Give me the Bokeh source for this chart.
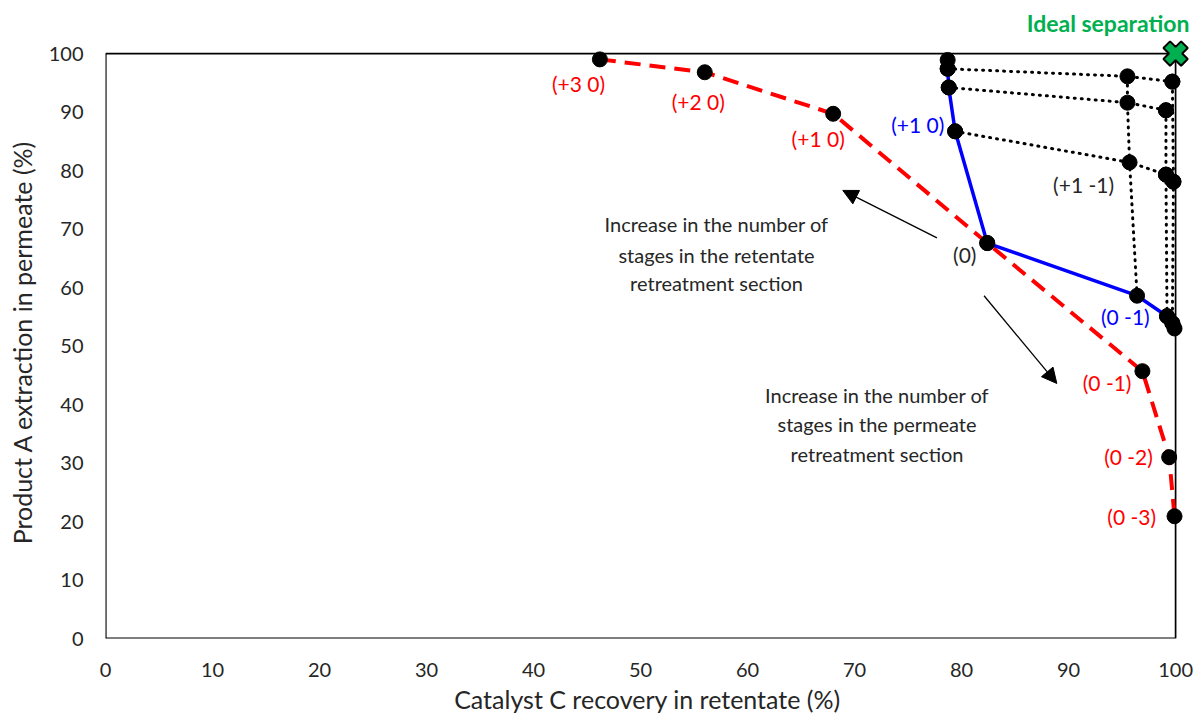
from bokeh.plotting import figure
from bokeh.models import Range1d, FixedTicker, Arrow, NormalHead, ColumnDataSource
from bokeh.core.properties import value
from bokeh.embed import file_html
from bokeh.resources import INLINE

FONT = "Lato"
TXT = "#262626"

# ---- data ----
x_ticks = [0, 10, 20, 30, 40, 50, 60, 70, 80, 90, 100]
y_ticks = [0, 10, 20, 30, 40, 50, 60, 70, 80, 90, 100]

# red dashed series (one section only)
red_x = [46.2, 56.0, 68.0, 82.4, 96.9, 99.4, 99.9]
red_y = [99.0, 96.8, 89.7, 67.6, 45.7, 31.0, 20.9]

# blue solid series (combined sections)
blue_x = [78.7, 78.7, 78.8, 79.4, 82.4, 96.4, 99.2, 99.7, 99.9]
blue_y = [98.9, 97.4, 94.2, 86.7, 67.6, 58.6, 55.1, 53.9, 53.0]

# dotted grid: rows (retentate stages) and columns (permeate stages)
row3_x = [78.7, 95.5, 99.7]
row3_y = [97.4, 96.1, 95.2]
row2_x = [78.8, 95.5, 99.1]
row2_y = [94.2, 91.6, 90.3]
row1_x = [79.4, 95.7, 99.1, 99.8]
row1_y = [86.7, 81.4, 79.3, 78.1]
col1_x = [96.4, 95.7, 95.5, 95.5]
col1_y = [58.6, 81.4, 91.6, 96.1]
col2_x = [99.2, 99.1, 99.1]
col2_y = [55.1, 79.3, 90.3]
col3_x = [99.7, 99.8, 99.7]
col3_y = [53.9, 78.1, 95.2]

ideal_x = [100]
ideal_y = [100]

# point labels
lab_text = ["(+3 0)", "(+2 0)", "(+1 0)", "(0 -1)", "(0 -2)", "(0 -3)",
            "(+1 0)", "(0 -1)", "(+1 -1)", "(0)"]
lab_x = [44.2, 55.4, 66.6, 93.6, 95.6, 95.9, 75.9, 95.3, 91.4, 80.3]
lab_y = [94.9, 91.8, 85.5, 43.8, 31.1, 20.9, 87.8, 55.0, 77.6, 65.6]
lab_color = ["#FF0000"] * 6 + ["#0000FF", "#0000FF", TXT, TXT]

ann1 = ["Increase in the number of", "stages in the retentate", "retreatment section"]
ann1_x = [57.1, 57.1, 57.1]
ann1_y = [70.8, 65.6, 60.7]
ann2 = ["Increase in the number of", "stages in the permeate", "retreatment section"]
ann2_x = [72.1, 72.1, 72.1]
ann2_y = [41.7, 36.6, 31.6]

# ---- figure ----
p = figure(width=1195, height=720,
           x_range=Range1d(0, 101.3), y_range=Range1d(0, 102.4),
           output_backend="svg", toolbar_location=None,
           min_border_left=105, min_border_right=6, min_border_top=39, min_border_bottom=82)
p.outline_line_color = None
p.xgrid.visible = False
p.ygrid.visible = False
p.background_fill_color = "white"
p.border_fill_color = "white"

p.title.text = "Ideal separation"
p.title.align = "right"
p.title.text_color = "#00B050"
p.title.text_font = FONT
p.title.text_font_size = "23px"
p.title.text_font_style = "bold"
p.title.standoff = 6

for ax, tk in ((p.xaxis, x_ticks), (p.yaxis, y_ticks)):
    ax.ticker = FixedTicker(ticks=tk)
    ax.axis_line_color = None
    ax.major_tick_line_color = None
    ax.minor_tick_line_color = None
    ax.major_tick_out = 0
    ax.major_tick_in = 0
    ax.major_label_text_font = FONT
    ax.major_label_text_font_size = "20px"
    ax.major_label_text_color = TXT
    ax.axis_label_text_font = FONT
    ax.axis_label_text_font_size = "25px"
    ax.axis_label_text_font_style = "normal"
    ax.axis_label_text_color = TXT

p.xaxis.axis_label = "Catalyst C recovery in retentate (%)"
p.yaxis.axis_label = "Product A extraction in permeate  (%)"
p.xaxis.major_label_standoff = 24
p.xaxis.axis_label_standoff = 4
p.yaxis.major_label_standoff = 22
p.yaxis.axis_label_standoff = 9

# frame lines
x0, x1 = x_ticks[0], x_ticks[-1]
y0, y1 = y_ticks[0], y_ticks[-1]
p.segment(x0=[x0, x0], y0=[y0, y0], x1=[x1, x0], y1=[y0, y1], line_color="black", line_width=2.2)
p.segment(x0=[x0, x1], y0=[y1, y0], x1=[x1, x1], y1=[y1, y1], line_color="black", line_width=1.7)

# dotted grid
p.multi_line(xs=[row3_x, row2_x, row1_x, col1_x, col2_x, col3_x],
             ys=[row3_y, row2_y, row1_y, col1_y, col2_y, col3_y],
             line_color="black", line_width=3, line_dash="1 6", line_cap="round")

# red dashed
p.line(red_x, red_y, line_color="#FF0000", line_width=4, line_dash="16 9")
# blue solid
p.line(blue_x, blue_y, line_color="#0000FF", line_width=3.5)

# markers
all_x = red_x + blue_x + row3_x + row2_x + row1_x + col2_x + col3_x
all_y = red_y + blue_y + row3_y + row2_y + row1_y + col2_y + col3_y
p.scatter(all_x, all_y, size=15, fill_color="black", line_color="black", marker="circle")

# ideal separation marker
p.scatter(ideal_x, ideal_y, marker="plus", size=25, angle=0.785398,
          fill_color="#00B050", line_color="black", line_width=2)

# point labels
src = ColumnDataSource(dict(x=lab_x, y=lab_y, t=lab_text, c=lab_color))
p.text(x="x", y="y", text="t", text_color="c", source=src,
       text_font=value(FONT), text_font_size="21px",
       text_align="center", text_baseline="middle")

# annotations
for tx, xx, yy in ((ann1, ann1_x, ann1_y), (ann2, ann2_x, ann2_y)):
    p.text(x=xx, y=yy, text=tx, text_color=TXT,
           text_font=value(FONT), text_font_size="20px",
           text_align="center", text_baseline="middle")

p.add_layout(Arrow(end=NormalHead(size=15, fill_color="black", line_color="black"),
                   x_start=77.7, y_start=68.5, x_end=68.9, y_end=76.6,
                   line_width=1.3, line_color="black"))
p.add_layout(Arrow(end=NormalHead(size=15, fill_color="black", line_color="black"),
                   x_start=82.1, y_start=58.6, x_end=88.9, y_end=43.6,
                   line_width=1.3, line_color="black"))

open("out.html", "w").write(file_html(p, INLINE))
